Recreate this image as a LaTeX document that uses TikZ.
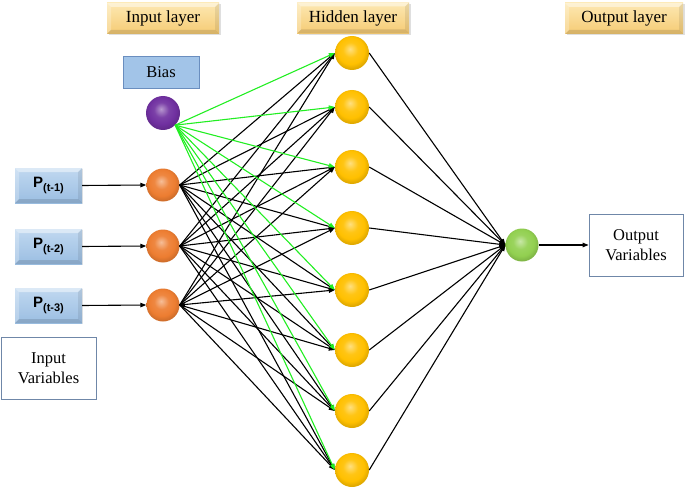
\documentclass[tikz,border=0pt]{standalone}
\usepackage{fontspec}
\setmainfont{Liberation Serif}
\newfontfamily\psans{Liberation Sans}
\usetikzlibrary{arrows.meta,shadows}
\definecolor{orangeN}{HTML}{ED7D31}
\definecolor{purpleN}{HTML}{7030A0}
\definecolor{yellowN}{HTML}{FFC000}
\definecolor{greenN}{HTML}{92D050}
\definecolor{edgeG}{HTML}{22EE22}
\definecolor{boxline}{HTML}{6F87A8}
\definecolor{biasfill}{HTML}{A2C4E8}
\definecolor{biasline}{HTML}{6A8EBF}
\colorlet{nodecol}{orange}
\pgfdeclareradialshading[nodecol]{softball}{\pgfpoint{-3bp}{6bp}}{%
  color(0bp)=(nodecol!50!white);
  color(11bp)=(nodecol!92!white);
  color(20bp)=(nodecol);
  color(26bp)=(nodecol!88!black);
  color(50bp)=(nodecol!88!black)}
\tikzset{
  neur/.style={circle, inner sep=0pt, minimum size=#1, shading=softball, draw=none},
  ncol/.code={\colorlet{nodecol}{#1}},
  bevel/.style={path picture={
    \path (path picture bounding box.north west) coordinate (bnw)
          (path picture bounding box.north east) coordinate (bne)
          (path picture bounding box.south west) coordinate (bsw)
          (path picture bounding box.south east) coordinate (bse);
    \fill[white,opacity=.45] (bnw) -- (bne) -- ([shift={(-4pt,-4pt)}]bne) -- ([shift={(4pt,-4pt)}]bnw) -- cycle;
    \fill[white,opacity=.25] (bnw) -- (bsw) -- ([shift={(4pt,4pt)}]bsw) -- ([shift={(4pt,-4pt)}]bnw) -- cycle;
    \fill[black,opacity=.12] (bsw) -- (bse) -- ([shift={(-4pt,4pt)}]bse) -- ([shift={(4pt,4pt)}]bsw) -- cycle;
    \fill[black,opacity=.08] (bne) -- (bse) -- ([shift={(-4pt,4pt)}]bse) -- ([shift={(-4pt,-4pt)}]bne) -- cycle;
  }},
  layerlabel/.style={rectangle, inner sep=0pt, minimum height=31pt,
    top color={rgb,255:red,253;green,232;blue,178}, bottom color={rgb,255:red,245;green,203;blue,116},
    bevel, drop shadow={opacity=.25, shadow xshift=1.5pt, shadow yshift=-1.5pt},
    font=\fontsize{17}{20}\selectfont},
  pbox/.style={rectangle, inner sep=0pt, minimum width=67pt, minimum height=35pt,
    top color={rgb,255:red,192;green,216;blue,240}, bottom color={rgb,255:red,155;green,190;blue,226},
    bevel, drop shadow={opacity=.2, shadow xshift=1pt, shadow yshift=-1pt},
    font=\psans\bfseries\fontsize{15}{17}\selectfont},
  varbox/.style={rectangle, inner sep=0pt, minimum width=95pt, minimum height=62pt,
    draw=boxline, line width=0.8pt, fill=white, align=center,
    font=\fontsize{16.5}{20}\selectfont},
  edgeb/.style={draw=black, line width=1.1pt, -{Triangle[length=6pt,width=4.5pt]}},
  edgeg/.style={draw=edgeG, line width=1.1pt, -{Triangle[length=6pt,width=4.5pt]}},
}
\newcommand{\psub}[1]{P\raisebox{-0.55ex}{\fontsize{11}{12}\selectfont(#1)}}
\begin{document}
\begin{tikzpicture}[x=1pt,y=-1pt]
\useasboundingbox (0,0) rectangle (685,492);
% layer labels
\node[layerlabel, minimum width=112pt] (linput) at (163,18.5) {Input layer};
\node[layerlabel, minimum width=112pt] (lhidden) at (353,18) {Hidden layer};
\node[layerlabel, minimum width=118pt] (loutput) at (624,18.5) {Output layer};
% bias
\node[rectangle, minimum width=76pt, minimum height=32pt, fill=biasfill, draw=biasline, line width=0.8pt,
      font=\fontsize{16.5}{20}\selectfont] (biasbox) at (161,72) {Bias};
\node[neur=34pt, ncol=purpleN] (bias) at (163,113) {};
% input boxes
\node[pbox] (p1) at (48.5,185.5) {\psub{t-1}};
\node[pbox] (p2) at (48.5,246.5) {\psub{t-2}};
\node[pbox] (p3) at (48.5,305.5) {\psub{t-3}};
\node[varbox] (invar) at (48.5,368) {Input\\Variables};
% input neurons
\node[neur=33pt, ncol=orangeN] (in1) at (163,185) {};
\node[neur=33pt, ncol=orangeN] (in2) at (163,246) {};
\node[neur=33pt, ncol=orangeN] (in3) at (163,305) {};
% hidden neurons
\foreach \k/\yy in {1/53,2/107,3/167,4/228,5/290,6/350,7/411,8/470}
  \node[neur=34pt, ncol=yellowN] (h\k) at (352,\yy) {};
% output
\node[neur=33pt, ncol=greenN] (out) at (522,245) {};
\node[varbox, minimum width=94pt] (outvar) at (636,245) {Output\\Variables};
% edges
\foreach \i in {1,2,3} \draw[edgeb] (p\i.east) -- (in\i.west);
\foreach \i in {1,2,3} \foreach \k in {1,...,8} \draw[edgeb] (in\i.east) -- (h\k.west);
\foreach \k in {1,...,8} \draw[edgeg] (bias.south east) -- (h\k.west);
\foreach \k in {1,...,8} \draw[edgeb] (h\k.east) -- (out.west);
\draw[edgeb] (out.east) -- (outvar.west);
\draw[edgeb, shorten >=-1pt] ([xshift=5pt]in3.east) -- (in3.east);
\end{tikzpicture}
\end{document}
